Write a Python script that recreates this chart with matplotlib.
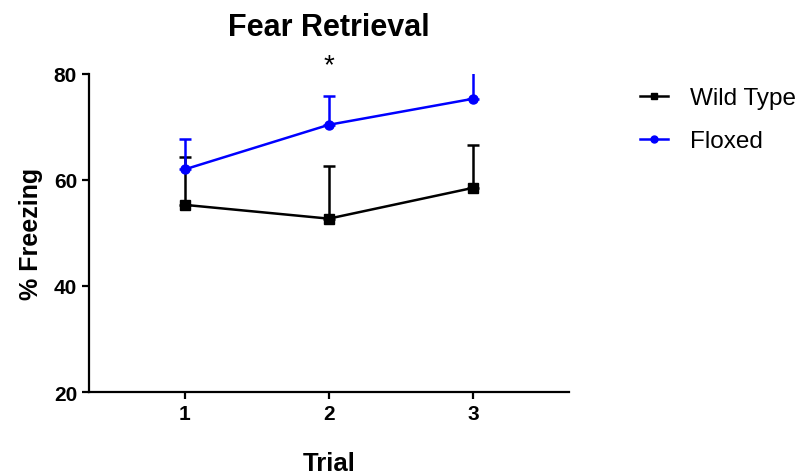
import numpy as np
import matplotlib.pyplot as plt
from matplotlib.lines import Line2D

plt.rcParams['font.family'] = ['Liberation Sans', 'DejaVu Sans']

trial = [1, 2, 3]
wt_mean = [55.3, 52.7, 58.5]
wt_sem = [9.0, 9.9, 8.1]
flox_mean = [62.0, 70.4, 75.3]
flox_sem = [5.7, 5.4, 5.8]

fig = plt.figure(figsize=(8.08, 4.77), dpi=100)
ax = fig.add_axes([0.110, 0.176, 0.594, 0.667])

# upper-only error bars, drawn like the usual Prism SEM style
ax.errorbar(trial, wt_mean, yerr=[np.zeros(3), wt_sem], color='black',
            marker='s', markersize=6.5, lw=1.8, elinewidth=1.8, capsize=4,
            capthick=1.8, zorder=3)
ax.errorbar(trial, flox_mean, yerr=[np.zeros(3), flox_sem], color='#0000ff',
            marker='o', markersize=6.5, lw=1.8, elinewidth=1.8, capsize=4,
            capthick=1.8, zorder=4)

ax.text(2, 81.7, '*', ha='center', va='center', fontsize=20, clip_on=False)

ax.set_xlim(1/3, 3 + 2/3)
ax.set_ylim(20, 80)
ax.set_xticks(trial)
ax.set_yticks([20, 40, 60, 80])
for s in ['top', 'right']:
    ax.spines[s].set_visible(False)
for s in ['left', 'bottom']:
    ax.spines[s].set_linewidth(1.6)
ax.tick_params(width=1.6, length=5, labelsize=15)
for lab in ax.get_xticklabels() + ax.get_yticklabels():
    lab.set_fontweight('bold')

ax.set_title('Fear Retrieval', fontsize=22, fontweight='bold', pad=28)
ax.set_xlabel('Trial', fontsize=18.5, fontweight='bold', labelpad=20)
ax.set_ylabel('% Freezing', fontsize=18, fontweight='bold', labelpad=8)

handles = [Line2D([], [], color='black', marker='s', markersize=5, lw=1.8),
           Line2D([], [], color='#0000ff', marker='o', markersize=5, lw=1.8)]
ax.legend(handles, ['Wild Type', 'Floxed'], loc='upper left',
          bbox_to_anchor=(0.78, 0.835), bbox_transform=fig.transFigure,
          frameon=False, fontsize=17.5, handlelength=1.15, handletextpad=0.9,
          labelspacing=0.85, borderaxespad=0)

fig.savefig('out.png', dpi=100)
